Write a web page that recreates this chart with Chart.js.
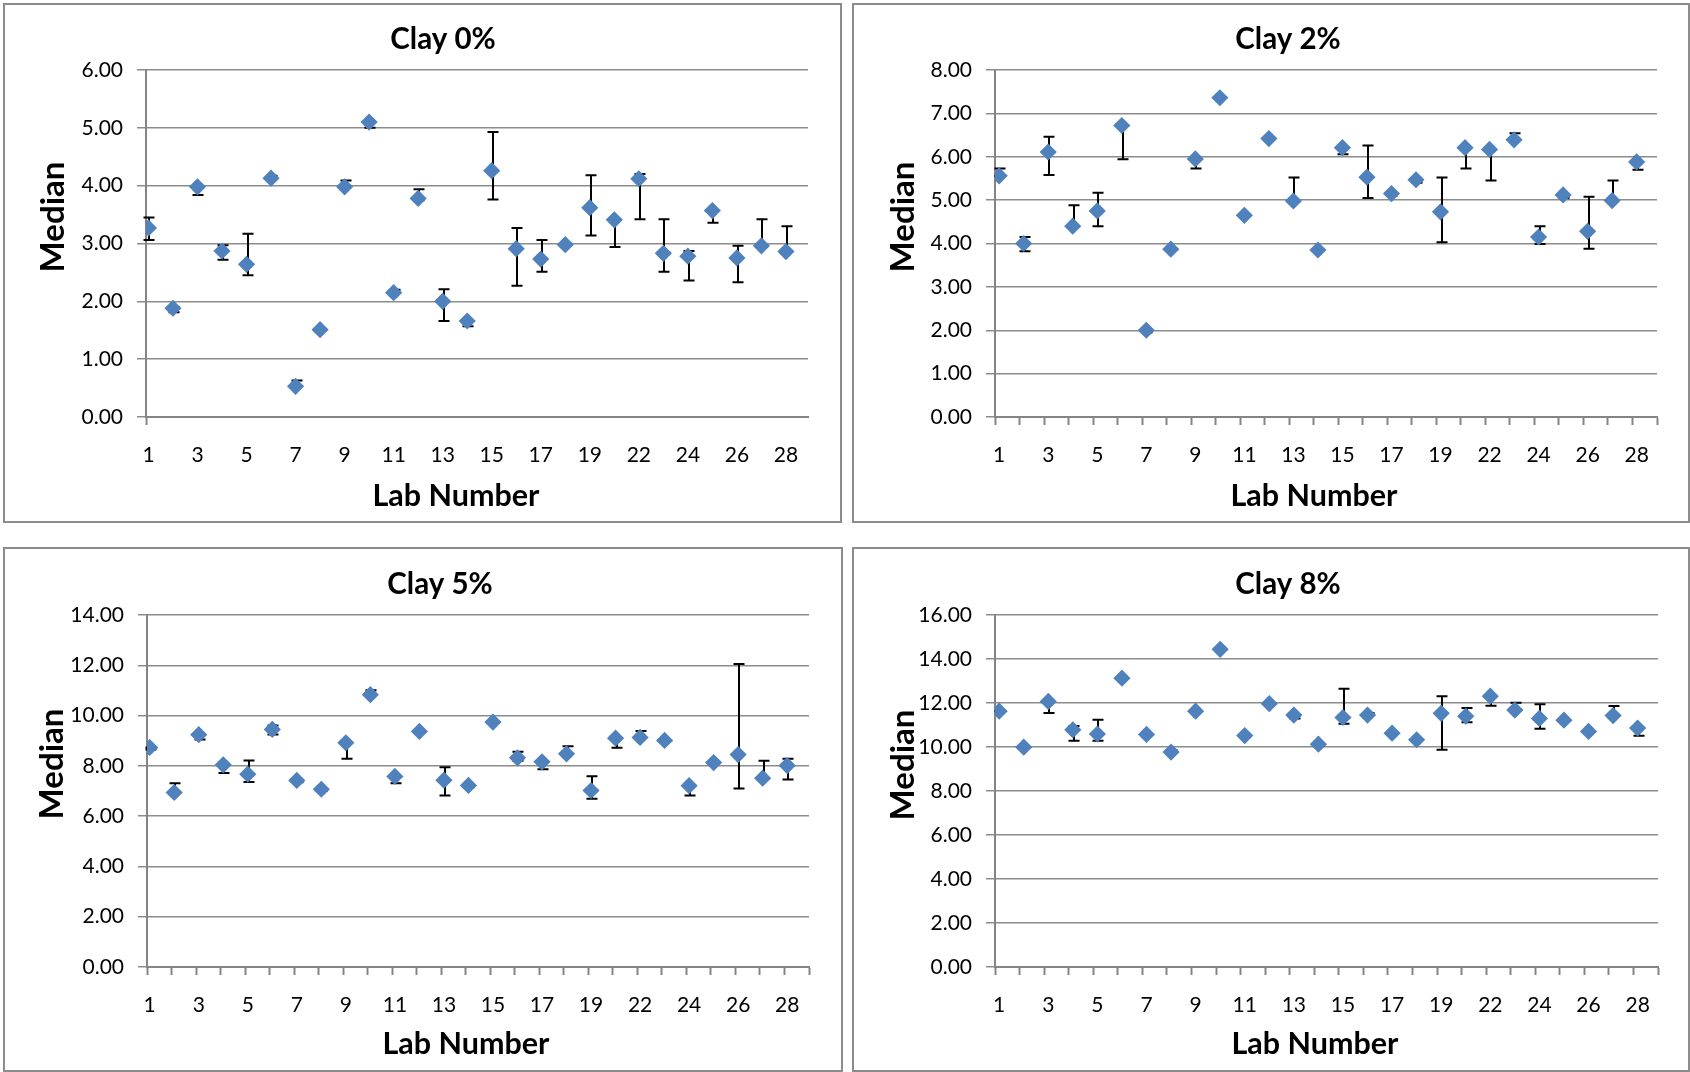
<!DOCTYPE html>
<html>
<head>
<meta charset="utf-8">
<title>Median by Lab Number</title>
<script src="https://cdn.jsdelivr.net/npm/chart.js@4.4.1/dist/chart.umd.min.js"></script>
<style>
  html, body { margin: 0; padding: 0; background: #fff; }
  body { width: 1690px; height: 1072px; position: relative; overflow: hidden; }
  .panel { position: absolute; box-sizing: border-box; border: 2px solid #8c8c8c; background: #fff; }
  .panel .box { position: absolute; left: 0; top: 0; right: 0; bottom: 0; }
</style>
</head>
<body>
<div class="panel" style="left:3px;top:3px;width:839px;height:520px"><div class="box"><canvas id="clay0"></canvas></div></div>
<div class="panel" style="left:852px;top:3px;width:838px;height:520px"><div class="box"><canvas id="clay2"></canvas></div></div>
<div class="panel" style="left:3px;top:547px;width:840px;height:525px"><div class="box"><canvas id="clay5"></canvas></div></div>
<div class="panel" style="left:852px;top:547px;width:838px;height:525px"><div class="box"><canvas id="clay8"></canvas></div></div>

<script>
Chart.defaults.font.family = "Lato, 'Open Sans', sans-serif";
Chart.defaults.color = '#000';

// Lab numbers on the category axis (one lab between 19 and 22 is unlabelled)
const labNumbers = ['1', '2', '3', '4', '5', '6', '7', '8', '9', '10', '11', '12', '13', '14',
    '15', '16', '17', '18', '19', '21', '22', '23', '24', '25', '26', '27', '28'];

// Clay 0%
const clay0Median = [3.27, 1.88, 3.98, 2.87, 2.64, 4.13, 0.53, 1.51, 3.98, 5.10, 2.15, 3.78, 2.00, 1.66,
    4.26, 2.91, 2.73, 2.98, 3.62, 3.41, 4.12, 2.83, 2.78, 3.57, 2.75, 2.96, 2.86];
const clay0High = [3.45, 1.90, 3.99, 2.97, 3.17, 4.17, 0.63, 1.51, 4.09, 5.12, 2.20, 3.94, 2.21, 1.66,
    4.93, 3.27, 3.06, 2.98, 4.18, 3.41, 4.20, 3.42, 2.87, 3.57, 2.96, 3.42, 3.30];
const clay0Low = [3.06, 1.81, 3.84, 2.72, 2.45, 4.13, 0.53, 1.51, 3.98, 5.00, 2.15, 3.75, 1.66, 1.57,
    3.76, 2.27, 2.51, 2.98, 3.14, 2.94, 3.42, 2.51, 2.36, 3.36, 2.33, 2.96, 2.86];

// Clay 2%
const clay2Median = [5.56, 4.00, 6.11, 4.40, 4.75, 6.72, 2.00, 3.87, 5.95, 7.36, 4.65, 6.42, 4.98, 3.85,
    6.21, 5.53, 5.15, 5.47, 4.73, 6.21, 6.17, 6.39, 4.15, 5.12, 4.28, 4.99, 5.88];
const clay2High = [5.73, 4.15, 6.46, 4.88, 5.17, 6.72, 2.00, 3.87, 5.95, 7.36, 4.65, 6.42, 5.52, 3.85,
    6.21, 6.26, 5.15, 5.47, 5.52, 6.21, 6.17, 6.54, 4.40, 5.12, 5.08, 5.45, 5.88];
const clay2Low = [5.56, 3.82, 5.58, 4.40, 4.40, 5.94, 1.95, 3.87, 5.73, 7.36, 4.65, 6.42, 4.98, 3.85,
    6.06, 5.05, 5.10, 5.40, 4.03, 5.73, 5.45, 6.39, 3.99, 5.05, 3.88, 4.99, 5.70];

// Clay 5%
const clay5Median = [8.73, 6.94, 9.24, 8.04, 7.67, 9.45, 7.42, 7.07, 8.92, 10.83, 7.58, 9.37, 7.43, 7.22,
    9.74, 8.32, 8.16, 8.48, 7.02, 9.10, 9.13, 9.01, 7.21, 8.13, 8.45, 7.51, 8.01];
const clay5High = [8.73, 7.31, 9.24, 8.04, 8.21, 9.61, 7.42, 7.07, 8.92, 11.01, 7.58, 9.37, 7.94, 7.22,
    9.74, 8.56, 8.16, 8.78, 7.59, 9.10, 9.39, 9.01, 7.21, 8.13, 12.05, 8.20, 8.28];
const clay5Low = [8.65, 6.94, 9.05, 7.72, 7.36, 9.25, 7.35, 7.00, 8.28, 10.83, 7.31, 9.37, 6.82, 7.15,
    9.74, 8.20, 7.87, 8.48, 6.69, 8.72, 9.13, 9.01, 6.82, 8.13, 7.10, 7.51, 7.46];

// Clay 8%
const clay8Median = [11.63, 9.99, 12.07, 10.78, 10.59, 13.13, 10.57, 9.77, 11.63, 14.44, 10.52, 11.97, 11.45, 10.13,
    11.34, 11.45, 10.63, 10.33, 11.53, 11.40, 12.31, 11.68, 11.30, 11.22, 10.71, 11.43, 10.86];
const clay8High = [11.63, 9.99, 12.07, 10.95, 11.24, 13.13, 10.57, 9.85, 11.63, 14.44, 10.52, 11.97, 11.45, 10.13,
    12.65, 11.55, 10.63, 10.33, 12.31, 11.77, 12.31, 12.01, 11.94, 11.22, 10.71, 11.86, 10.86];
const clay8Low = [11.63, 9.99, 11.55, 10.28, 10.28, 13.13, 10.57, 9.77, 11.63, 14.44, 10.52, 11.97, 11.30, 10.05,
    11.06, 11.45, 10.63, 10.33, 9.87, 11.13, 11.87, 11.68, 10.83, 11.22, 10.71, 11.43, 10.51];

const GRID = '#8c8c8c';
const AXIS = '#848484';
const MARKER = '#4f81bd';

// Black capped error bars, drawn under the diamonds
const errorBars = {
    id: 'errorBars',
    beforeDatasetsDraw(chart) {
        const { ctx, scales: { x, y } } = chart;
        ctx.save();
        ctx.strokeStyle = '#000';
        ctx.lineWidth = 2;
        chart.data.datasets.forEach(ds => {
            if (!ds.errHigh) return;
            ds.data.forEach((pt, i) => {
                const px = Math.round(x.getPixelForValue(pt.x)) + 1;
                const top = y.getPixelForValue(ds.errHigh[i]);
                const bot = y.getPixelForValue(ds.errLow[i]);
                ctx.beginPath();
                ctx.moveTo(px, top); ctx.lineTo(px, bot);
                ctx.moveTo(px - 5.5, top); ctx.lineTo(px + 5.5, top);
                ctx.moveTo(px - 5.5, bot); ctx.lineTo(px + 5.5, bot);
                ctx.stroke();
            });
        });
        ctx.restore();
    }
};

// Title and axis titles, placed the way the spreadsheet put them
function panelText(p) {
    return {
        id: 'panelText',
        afterDraw(chart) {
            const ctx = chart.ctx;
            const fam = "Lato, 'Open Sans', sans-serif";
            ctx.save();
            ctx.fillStyle = '#000';
            ctx.textAlign = 'center';
            ctx.textBaseline = 'middle';
            ctx.font = 'bold 29.5px ' + fam;
            ctx.fillText(p.title, p.titleX, p.titleY);
            ctx.font = 'bold 30.5px ' + fam;
            ctx.fillText('Lab Number', p.xTitleX, p.xTitleY);
            ctx.font = 'bold 33px ' + fam;
            ctx.translate(p.yTitleX, p.yTitleY);
            ctx.rotate(-Math.PI / 2);
            ctx.fillText('Median', 0, 0);
            ctx.restore();
        }
    };
}

function makeChart(id, p, median, high, low) {
    new Chart(document.getElementById(id), {
        type: 'scatter',
        data: {
            datasets: [{
                data: median.map((v, i) => ({ x: i, y: v })),
                errHigh: high,
                errLow: low,
                pointStyle: 'rectRot',
                pointRadius: 8.6,
                pointHoverRadius: 8.6,
                backgroundColor: MARKER,
                borderWidth: 0
            }]
        },
        options: {
            responsive: true,
            maintainAspectRatio: false,
            animation: false,
            events: [],
            layout: { padding: { top: p.top, right: p.right, left: 0, bottom: 0 } },
            plugins: { legend: { display: false }, tooltip: { enabled: false } },
            scales: {
                x: {
                    type: 'linear',
                    min: -p.shift,
                    max: labNumbers.length - p.shift,
                    afterBuildTicks: s => {
                        s.ticks = labNumbers.concat(['']).map((_, k) => ({ value: k - p.shift }));
                    },
                    afterFit: s => { s.height = p.xAxisH; },
                    grid: {
                        drawOnChartArea: false,
                        tickLength: 8,
                        tickWidth: 2,
                        tickColor: c => (p.xTicks || c.index === 0) ? AXIS : 'rgba(0,0,0,0)'
                    },
                    border: { color: AXIS, width: 2 },
                    ticks: {
                        autoSkip: false,
                        maxRotation: 0,
                        padding: 18,
                        labelOffset: p.labelOffset,
                        font: { size: 21 },
                        callback: (v, k) => (k % 2 === 0 && k < labNumbers.length) ? labNumbers[k] : ''
                    }
                },
                y: {
                    min: 0,
                    max: p.yMax,
                    afterFit: s => { s.width = p.yAxisW; },
                    ticks: {
                        stepSize: p.yStep,
                        padding: 14,
                        font: { size: 21 },
                        callback: v => v.toFixed(2)
                    },
                    grid: { color: GRID, lineWidth: 1.5, tickLength: 9, tickColor: GRID, tickWidth: 1.5 },
                    border: { color: AXIS, width: 2 }
                }
            }
        },
        plugins: [errorBars, panelText(p)]
    });
}

makeChart('clay0', {
    title: 'Clay 0%', yMax: 6, yStep: 1, xTicks: false,
    top: 65, right: 32, yAxisW: 141, xAxisH: 104, shift: 0.1, labelOffset: 2.5,
    titleX: 438, titleY: 34, xTitleX: 451, xTitleY: 491, yTitleX: 48, yTitleY: 212
}, clay0Median, clay0High, clay0Low);

makeChart('clay2', {
    title: 'Clay 2%', yMax: 8, yStep: 1, xTicks: true,
    top: 65, right: 31, yAxisW: 141, xAxisH: 104, shift: 0.17, labelOffset: 4.2,
    titleX: 434, titleY: 34, xTitleX: 460, xTitleY: 491, yTitleX: 49, yTitleY: 212
}, clay2Median, clay2High, clay2Low);

makeChart('clay5', {
    title: 'Clay 5%', yMax: 14, yStep: 2, xTicks: true,
    top: 66, right: 32, yAxisW: 142, xAxisH: 103, shift: 0.11, labelOffset: 2.7,
    titleX: 435, titleY: 35, xTitleX: 461, xTitleY: 495, yTitleX: 47, yTitleY: 215
}, clay5Median, clay5High, clay5Low);

makeChart('clay8', {
    title: 'Clay 8%', yMax: 16, yStep: 2, xTicks: true,
    top: 66, right: 30, yAxisW: 141, xAxisH: 103, shift: 0.17, labelOffset: 4.2,
    titleX: 434, titleY: 35, xTitleX: 461, xTitleY: 495, yTitleX: 49, yTitleY: 216
}, clay8Median, clay8High, clay8Low);
</script>
</body>
</html>
